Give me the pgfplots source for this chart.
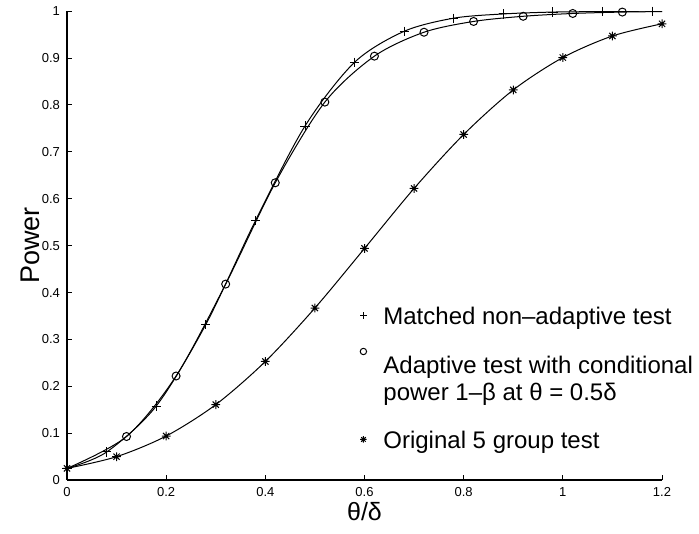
\documentclass[border=0pt]{standalone}
\usepackage{fontspec}
\setmainfont{Liberation Sans}
\usepackage{pgfplots}
\pgfplotsset{compat=1.18}

% MATLAB-like '*' marker: eight arms
\pgfdeclareplotmark{mstar}{%
  \pgfpathmoveto{\pgfqpoint{\pgfplotmarksize}{0pt}}%
  \pgfpathlineto{\pgfqpoint{-\pgfplotmarksize}{0pt}}%
  \pgfpathmoveto{\pgfqpoint{0pt}{\pgfplotmarksize}}%
  \pgfpathlineto{\pgfqpoint{0pt}{-\pgfplotmarksize}}%
  \pgfpathmoveto{\pgfqpoint{0.707\pgfplotmarksize}{0.707\pgfplotmarksize}}%
  \pgfpathlineto{\pgfqpoint{-0.707\pgfplotmarksize}{-0.707\pgfplotmarksize}}%
  \pgfpathmoveto{\pgfqpoint{-0.707\pgfplotmarksize}{0.707\pgfplotmarksize}}%
  \pgfpathlineto{\pgfqpoint{0.707\pgfplotmarksize}{-0.707\pgfplotmarksize}}%
  \pgfusepathqstroke}

% legend: mark only, raised by #1
\pgfplotsset{leg/.style={legend image code/.code={%
  \draw[##1, mark size=1.6pt, overlay] plot coordinates {(0pt,#1)};
  \path[draw=none] (-3pt,0pt) -- (9pt,0pt);}}}

\pgfplotstableread{
x      y
0      0.025
0.08   0.060
0.18   0.158
0.28   0.332
0.38   0.553
0.48   0.755
0.58   0.891
0.68   0.957
0.78   0.985
0.88   0.994
0.98   0.998
1.08   0.999
1.18   1.000
1.2    1.000
}\matched

\pgfplotstableread{
x      y
0      0.025
0.12   0.093
0.22   0.222
0.32   0.418
0.42   0.634
0.52   0.806
0.62   0.904
0.72   0.955
0.82   0.978
0.92   0.989
1.02   0.995
1.12   0.998
1.2    0.999
}\adaptive

\pgfplotstableread{
x      y
0      0.025
0.1    0.050
0.2    0.094
0.3    0.161
0.4    0.253
0.5    0.367
0.6    0.494
0.7    0.622
0.8    0.737
0.9    0.832
1.0    0.901
1.1    0.947
1.2    0.973
}\original

\begin{document}
\begin{tikzpicture}
\begin{axis}[
  scale only axis,
  width=297.5pt, height=234.5pt,
  xmin=0, xmax=1.2, ymin=0, ymax=1,
  axis x line*=bottom, axis y line*=left,
  axis line style={-, line width=0.7pt},
  xtick={0,0.2,0.4,0.6,0.8,1,1.2},
  ytick={0,0.1,0.2,0.3,0.4,0.5,0.6,0.7,0.8,0.9,1},
  tick align=inside,
  major tick length=2.5pt,
  tick style={line width=0.5pt, black},
  tick label style={font=\fontsize{6.5}{7}\selectfont},
  /pgf/number format/assume math mode=true,
  /pgf/number format/fixed,
  xlabel={θ/δ},
  ylabel={Power},
  xlabel style={font=\fontsize{12.5}{13}\selectfont, at={(axis description cs:0.5,-0.068)}, anchor=center},
  ylabel style={font=\fontsize{13.5}{14}\selectfont, at={(axis description cs:-0.062,0.5)}, anchor=center},
  legend style={draw=none, fill=none, inner sep=0pt, at={(axis description cs:0.4874,0.3734)}, anchor=north west,
    font=\fontsize{12}{13.5}\selectfont, row sep=12pt, nodes={align=left, inner sep=1pt}},
  legend cell align=left,
  every axis plot/.append style={black, line width=0.5pt},
]
\addplot[smooth, forget plot] table[x=x,y=y] {\matched};
\addplot[smooth, forget plot] table[x=x,y=y] {\adaptive};
\addplot[smooth, forget plot] table[x=x,y=y] {\original};

\addplot[only marks, mark=+, mark size=2.3pt, leg=1pt] table[x=x,y=y] {
x y
0      0.025
0.08   0.060
0.18   0.158
0.28   0.332
0.38   0.553
0.48   0.755
0.58   0.891
0.68   0.957
0.78   0.985
0.88   0.994
0.98   0.998
1.08   0.999
1.18   1.000
};
\addlegendentry{Matched non–adaptive test}
\addplot[only marks, mark=o, mark size=2pt, leg=14pt] table[x=x,y=y] {
x y
0.12   0.093
0.22   0.222
0.32   0.418
0.42   0.634
0.52   0.806
0.62   0.904
0.72   0.955
0.82   0.978
0.92   0.989
1.02   0.995
1.12   0.998
};
\addlegendentry{Adaptive test with conditional\\power 1–β at θ = 0.5δ\rule[-11pt]{0pt}{11pt}}
\addplot[only marks, mark=mstar, mark size=2.2pt, leg=1pt] table[x=x,y=y] {\original};
\addlegendentry{Original 5 group test}

\coordinate (O) at (rel axis cs:0,0);
\end{axis}
\path ([shift={(-33.5pt,-26.5pt)}]O) rectangle ++(349.5pt,266.5pt);
\end{tikzpicture}
\end{document}
